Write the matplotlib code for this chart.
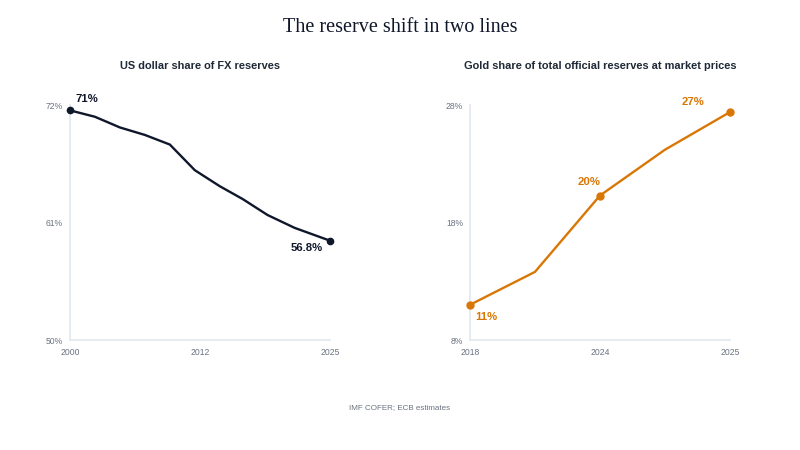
import matplotlib.pyplot as plt

# US dollar share of FX reserves
usd_years = [2000, 2002.4, 2004.8, 2007.2, 2009.6, 2012, 2014.4, 2016.6, 2019, 2021.6, 2025]
usd_share = [71.5, 70.9, 69.9, 69.2, 68.3, 65.9, 64.4, 63.2, 61.7, 60.5, 59.3]
usd_ticks = [2000, 2012.5, 2025]
usd_tick_labels = ["2000", "2012", "2025"]

# Gold share of total official reserves
gold_periods = ["2018", "2021", "2024", "2024 H2", "2025"]
gold_share = [11.0, 13.8, 20.3, 24.2, 27.4]

navy = "#0f172a"
orange = "#d97706"
grey = "#6b7280"
axis_col = "#e2e8f0"
sans = ["Liberation Sans", "DejaVu Sans"]

fig = plt.figure(figsize=(8, 4.5), dpi=100)
fig.patch.set_facecolor("white")

ax1 = fig.add_axes([0.0875, 0.2444, 0.325, 0.5222])
ax2 = fig.add_axes([0.5875, 0.2444, 0.325, 0.5222])

fig.text(0.5, 0.938, "The reserve shift in two lines", ha="center", va="center",
         fontsize=14.5, family="Liberation Serif", color=navy)
fig.text(0.25, 0.853, "US dollar share of FX reserves", ha="center", va="center",
         fontsize=7.9, fontweight="bold", family=sans, color="#1f2937")
fig.text(0.75, 0.853, "Gold share of total official reserves at market prices", ha="center", va="center",
         fontsize=7.9, fontweight="bold", family=sans, color="#1f2937")
fig.text(0.5, 0.095, "IMF COFER; ECB estimates", ha="center", va="center",
         fontsize=5.8, family=sans, color=grey)

for ax in (ax1, ax2):
    for s in ("top", "right"):
        ax.spines[s].set_visible(False)
    for s in ("left", "bottom"):
        ax.spines[s].set_color(axis_col)
        ax.spines[s].set_linewidth(1.2)
        ax.spines[s].set_zorder(1)
    ax.tick_params(length=0, labelsize=6.2, labelcolor=grey)
    ax.tick_params(axis="y", pad=5)
    ax.tick_params(axis="x", pad=6)

# left panel
ax1.plot(usd_years, usd_share, color=navy, lw=1.7, solid_joinstyle="round", zorder=3)
ax1.plot([usd_years[0], usd_years[-1]], [usd_share[0], usd_share[-1]], "o",
         color=navy, ms=4.5, clip_on=False, zorder=4)
ax1.set_xlim(usd_years[0], usd_years[-1])
ax1.set_ylim(50, 72)
ax1.set_yticks([50, 61, 72])
ax1.set_yticklabels(["50%", "61%", "72%"])
ax1.set_xticks(usd_ticks)
ax1.set_xticklabels(usd_tick_labels)
ax1.annotate("71%", (usd_years[0], usd_share[0]), xytext=(4, 8), textcoords="offset points",
             ha="left", va="center", fontsize=8.2, fontweight="bold", color=navy, family=sans)
ax1.annotate("56.8%", (usd_years[-1], usd_share[-1]), xytext=(-5, -5), textcoords="offset points",
             ha="right", va="center", fontsize=8.2, fontweight="bold", color=navy, family=sans)

# right panel
gx = list(range(len(gold_periods)))
ax2.plot(gx, gold_share, color=orange, lw=1.7, zorder=3)
ax2.plot([gx[0], gx[2], gx[4]], [gold_share[0], gold_share[2], gold_share[4]], "o",
         color=orange, ms=5, clip_on=False, zorder=4)
ax2.set_xlim(gx[0], gx[-1])
ax2.set_ylim(8, 28)
ax2.set_yticks([8, 18, 28])
ax2.set_yticklabels(["8%", "18%", "28%"])
ax2.set_xticks([gx[0], gx[2], gx[4]])
ax2.set_xticklabels([gold_periods[0], gold_periods[2], gold_periods[4]])
ax2.annotate("11%", (gx[0], gold_share[0]), xytext=(4, -9), textcoords="offset points",
             ha="left", va="center", fontsize=8.2, fontweight="bold", color=orange, family=sans)
ax2.annotate("20%", (gx[2], gold_share[2]), xytext=(-8, 10), textcoords="offset points",
             ha="center", va="center", fontsize=8.2, fontweight="bold", color=orange, family=sans)
ax2.annotate("27%", (gx[4], gold_share[4]), xytext=(-27, 7), textcoords="offset points",
             ha="center", va="center", fontsize=8.2, fontweight="bold", color=orange, family=sans)

for ax in (ax1, ax2):
    for lab in ax.get_xticklabels() + ax.get_yticklabels():
        lab.set_family(sans)

fig.savefig("out.png", dpi=100)
